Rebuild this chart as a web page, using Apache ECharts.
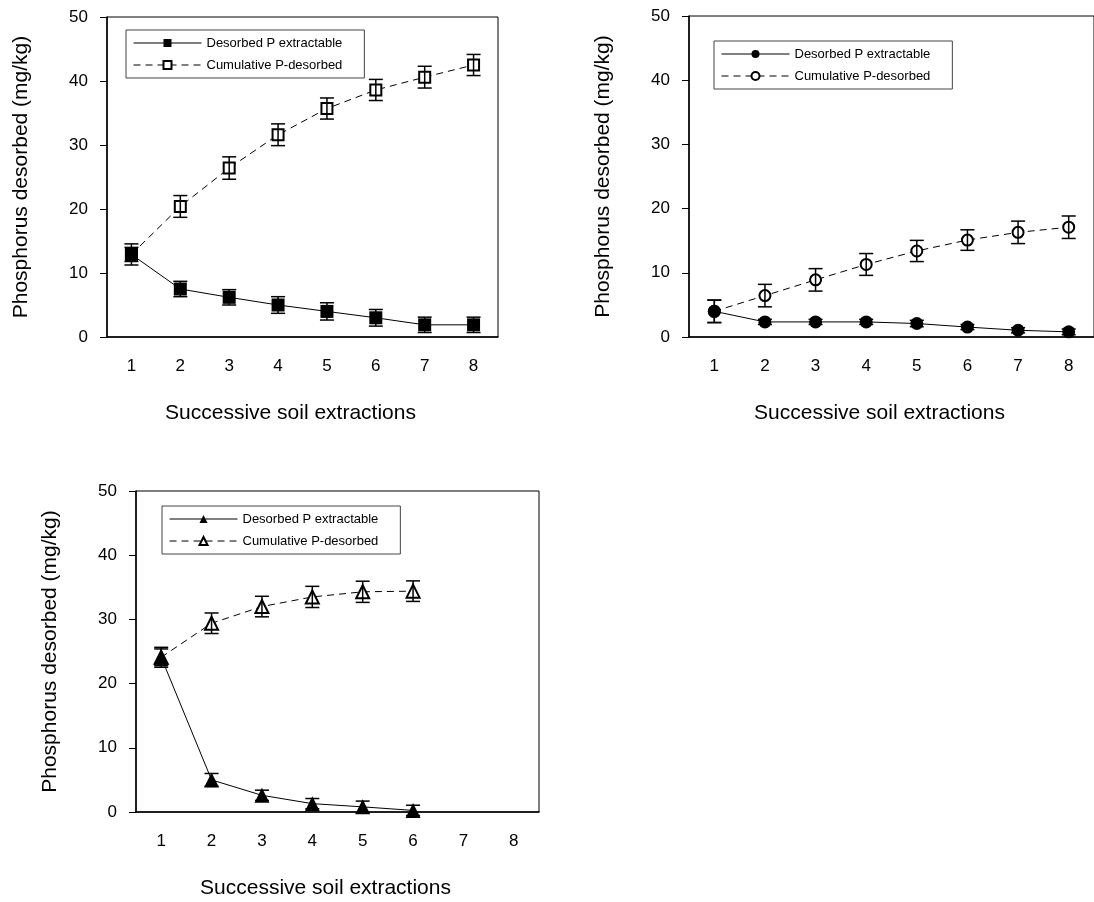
<!DOCTYPE html>
<html>
<head>
<meta charset="utf-8">
<title>Phosphorus desorbed</title>
<script src="https://cdn.jsdelivr.net/npm/echarts@6/dist/echarts.min.js"></script>
<style>
  html, body { margin: 0; padding: 0; background: #fff; }
  #chart { width: 1094px; height: 902px; }
</style>
</head>
<body>
<div id="chart"></div>
<script>
  const categories = ['1', '2', '3', '4', '5', '6', '7', '8'];
  const xName = 'Successive soil extractions';
  const yName = 'Phosphorus desorbed (mg/kg)';
  const desLabel = 'Desorbed P extractable';
  const cumLabel = 'Cumulative P-desorbed';

  // panel A - squares
  const desorbedA = [12.9, 7.5, 6.2, 5.0, 4.0, 3.0, 1.9, 1.9];
  const desorbedErrA = [1.1, 1.2, 1.2, 1.3, 1.35, 1.3, 1.2, 1.2];
  const cumulativeA = [12.9, 20.4, 26.4, 31.6, 35.7, 38.6, 40.6, 42.5];
  const cumulativeErrA = [1.65, 1.7, 1.75, 1.7, 1.65, 1.65, 1.7, 1.65];

  // panel B - circles
  const desorbedB = [4.0, 2.35, 2.35, 2.35, 2.1, 1.55, 1.05, 0.8];
  const desorbedErrB = [1.75, 0.4, 0.4, 0.4, 0.5, 0.4, 0.4, 0.45];
  const cumulativeB = [4.0, 6.45, 8.9, 11.3, 13.4, 15.1, 16.3, 17.1];
  const cumulativeErrB = [1.75, 1.75, 1.75, 1.7, 1.65, 1.6, 1.75, 1.75];

  // panel C - triangles
  const desorbedC = [24.1, 5.0, 2.6, 1.3, 0.8, 0.25];
  const desorbedErrC = [1.3, 1.0, 0.8, 0.8, 0.9, 0.8];
  const cumulativeC = [24.1, 29.4, 32.0, 33.5, 34.3, 34.4];
  const cumulativeErrC = [1.55, 1.6, 1.6, 1.65, 1.65, 1.6];

  const font = '"Liberation Sans", Arial, sans-serif';
  const dash = [7, 5];

  function xAxisFor(i) {
    return {
      type: 'category',
      gridIndex: i,
      data: categories,
      name: xName,
      nameLocation: 'middle',
      nameGap: 66,
      nameTextStyle: { fontSize: 21, color: '#000', padding: [0, 24, 0, 0] },
      axisLine: { lineStyle: { color: '#000', width: 1.5 } },
      axisTick: { length: 6, lineStyle: { color: '#000', width: 1 } },
      axisLabel: { fontSize: 17, color: '#000', margin: 21 },
      splitLine: { show: false },
    };
  }

  function yAxisFor(i) {
    return {
      type: 'value',
      gridIndex: i,
      min: 0,
      max: 50,
      interval: 10,
      name: yName,
      nameLocation: 'middle',
      nameGap: 75,
      nameTextStyle: { fontSize: 21, color: '#000' },
      axisLine: { show: true, lineStyle: { color: '#000', width: 1.5 } },
      axisTick: { show: true, length: 7, lineStyle: { color: '#000', width: 1 } },
      axisLabel: { fontSize: 17, color: '#000', margin: 19 },
      splitLine: { show: false },
    };
  }

  function lineSeries(name, i, values, symbol, size, dashed) {
    return {
      name: name,
      type: 'line',
      xAxisIndex: i,
      yAxisIndex: i,
      data: values,
      symbol: symbol,
      symbolSize: size,
      showAllSymbol: true,
      itemStyle: { color: '#000', borderColor: '#000', borderWidth: dashed ? 1.5 : 0 },
      lineStyle: { color: '#000', width: 1, type: dashed ? dash : 'solid' },
      z: dashed ? 2 : 3,
    };
  }

  // error bars drawn on top so the stem shows through open markers
  function errorBars(i, values, errs) {
    return {
      type: 'custom',
      xAxisIndex: i,
      yAxisIndex: i,
      silent: true,
      z: 5,
      encode: { x: 0, y: [1, 2] },
      data: values.map((v, k) => [k, v - errs[k], v + errs[k]]),
      renderItem: function (params, api) {
        const lo = api.coord([api.value(0), api.value(1)]);
        const hi = api.coord([api.value(0), api.value(2)]);
        const half = 7;
        const style = { stroke: '#000', lineWidth: 1.5 };
        return {
          type: 'group',
          children: [
            { type: 'line', shape: { x1: lo[0], y1: lo[1], x2: hi[0], y2: hi[1] }, style: style },
            { type: 'line', shape: { x1: lo[0] - half, y1: lo[1], x2: lo[0] + half, y2: lo[1] }, style: style },
            { type: 'line', shape: { x1: hi[0] - half, y1: hi[1], x2: hi[0] + half, y2: hi[1] }, style: style },
          ],
        };
      },
    };
  }

  function legendFor(key, left, top) {
    return {
      orient: 'vertical',
      left: left,
      top: top,
      data: ['des' + key, 'cum' + key],
      formatter: (name) => (name.startsWith('des') ? desLabel : cumLabel),
      itemWidth: 68,
      itemHeight: 10,
      itemGap: 8,
      padding: [6, 22, 6, 7],
      borderColor: '#444',
      borderWidth: 1,
      selectedMode: false,
      lineStyle: { width: 1 },
      textStyle: { fontSize: 13, color: '#000', lineHeight: 14 },
    };
  }

  const option = {
    animation: false,
    backgroundColor: '#fff',
    textStyle: { fontFamily: font },
    grid: [
      { left: 107, top: 17, width: 391, height: 320, show: true, borderColor: '#000', borderWidth: 1 },
      { left: 689, top: 16, width: 407, height: 321, show: true, borderColor: '#000', borderWidth: 1 },
      { left: 136, top: 491, width: 403, height: 321, show: true, borderColor: '#000', borderWidth: 1 },
    ],
    xAxis: [xAxisFor(0), xAxisFor(1), xAxisFor(2)],
    yAxis: [yAxisFor(0), yAxisFor(1), yAxisFor(2)],
    legend: [
      legendFor('A', 126, 30),
      legendFor('B', 714, 41),
      legendFor('C', 162, 506),
    ],
    series: [
      lineSeries('cumA', 0, cumulativeA, 'emptyRect', 11, true),
      lineSeries('desA', 0, desorbedA, 'rect', 13, false),
      errorBars(0, cumulativeA, cumulativeErrA),
      errorBars(0, desorbedA, desorbedErrA),

      lineSeries('cumB', 1, cumulativeB, 'emptyCircle', 11, true),
      lineSeries('desB', 1, desorbedB, 'circle', 13, false),
      errorBars(1, cumulativeB, cumulativeErrB),
      errorBars(1, desorbedB, desorbedErrB),

      lineSeries('cumC', 2, cumulativeC, 'emptyTriangle', 13, true),
      lineSeries('desC', 2, desorbedC, 'triangle', 15, false),
      errorBars(2, cumulativeC, cumulativeErrC),
      errorBars(2, desorbedC, desorbedErrC),
    ],
  };

  const chart = echarts.init(document.getElementById('chart'));
  chart.setOption(option);
  window.addEventListener('resize', chart.resize);
</script>
</body>
</html>
